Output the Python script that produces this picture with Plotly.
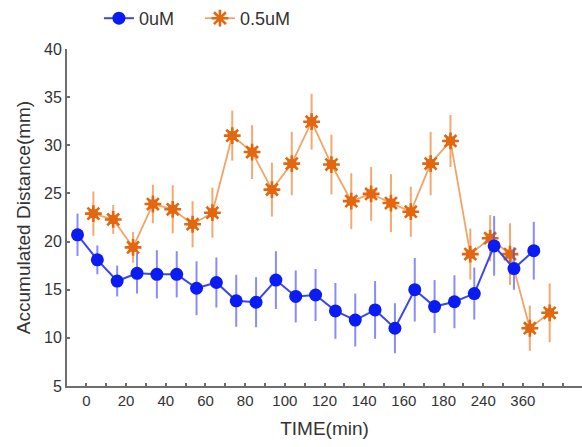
import plotly.graph_objects as go

# Sampling slots (one per time point) and their axis labels
slots = list(range(24))
tick_labels = ["0", "20", "40", "60", "80", "100", "120", "140", "160", "180", "240", "360"]

# Mean accumulated distance (mm) and error per time point
ctrl_mean = [20.7, 18.1, 15.9, 16.7, 16.6, 16.6, 15.15, 15.75, 13.85, 13.7, 16.0, 14.3,
             14.45, 12.8, 11.85, 12.9, 11.0, 15.0, 13.25, 13.75, 14.6, 19.55, 17.2, 19.05]
ctrl_err = [2.2, 1.5, 1.6, 2.1, 2.5, 2.4, 2.8, 2.6, 2.7, 2.6, 3.0, 2.7,
            2.7, 2.9, 2.75, 3.0, 2.6, 3.3, 2.75, 2.75, 2.7, 3.1, 2.2, 3.0]

dose_mean = [22.9, 22.3, 19.4, 23.9, 23.35, 21.8, 23.0, 31.0, 29.3, 25.4, 28.1, 32.45,
             28.0, 24.2, 24.95, 24.0, 23.1, 28.1, 30.45, 18.7, 20.35, 18.7, 11.0, 12.6]
dose_err = [2.3, 1.5, 1.6, 2.0, 2.5, 2.4, 2.6, 2.6, 2.8, 2.8, 3.3, 2.9,
            3.1, 2.9, 2.8, 3.0, 2.6, 3.3, 2.7, 2.65, 2.4, 3.2, 2.35, 3.05]

# Small horizontal dodge so the two groups do not overlap
ctrl_x = [s - 0.45 for s in slots]
dose_x = [s + 0.35 for s in slots]

BLUE = "#0b1cf2"
BLUE_LINE = "#3b45f0"
BLUE_ERR = "rgba(70,80,245,0.65)"
ORANGE = "#e2670e"
ORANGE_LINE = "#f2a467"
ORANGE_ERR = "rgba(238,140,70,0.75)"

fig = go.Figure()

fig.add_trace(go.Scatter(
    x=dose_x, y=dose_mean, name="0.5uM", mode="lines+markers",
    line=dict(color=ORANGE_LINE, width=1.8),
    marker=dict(symbol="asterisk-open", size=14, color=ORANGE,
                line=dict(color=ORANGE, width=2.6)),
    error_y=dict(type="data", array=dose_err, visible=True,
                 color=ORANGE_ERR, thickness=2, width=0),
))
fig.add_trace(go.Scatter(
    x=dose_x, y=dose_mean, mode="markers", showlegend=False, hoverinfo="skip",
    marker=dict(symbol="square", size=9, color=ORANGE, line=dict(width=0)),
))
fig.add_trace(go.Scatter(
    x=ctrl_x, y=ctrl_mean, name="0uM", mode="lines+markers",
    line=dict(color=BLUE_LINE, width=2),
    marker=dict(symbol="circle", size=13, color=BLUE, line=dict(width=0)),
    error_y=dict(type="data", array=ctrl_err, visible=True,
                 color=BLUE_ERR, thickness=2, width=0),
))

tickvals = list(range(25))
ticktext = [tick_labels[v // 2] if v % 2 == 0 and v // 2 < len(tick_labels) else "" for v in tickvals]

axis_color = "#6e6e6e"
font_family = "Liberation Sans, Arial, sans-serif"

fig.update_layout(
    width=582, height=447,
    margin=dict(l=67, r=0, t=49, b=61),
    paper_bgcolor="white", plot_bgcolor="white",
    font=dict(family=font_family, color="#333333"),
    showlegend=True,
    legend=dict(orientation="h", x=0.062, y=1.036, xanchor="left", yanchor="bottom",
                traceorder="reversed", font=dict(size=18, color="#333333"),
                itemwidth=30, entrywidth=56, entrywidthmode="pixels",
                bgcolor="rgba(0,0,0,0)"),
    xaxis=dict(
        range=[-0.98, 24.98], tickmode="array", tickvals=tickvals, ticktext=ticktext,
        ticks="inside", ticklen=3, tickwidth=1.5, tickcolor=axis_color,
        showline=True, linecolor=axis_color, linewidth=1.8, showgrid=False, zeroline=False,
        tickfont=dict(size=15, color="#333333"),
        title=dict(text="TIME(min)", font=dict(size=19, color="#333333"), standoff=14),
    ),
    yaxis=dict(
        range=[5, 40], tickmode="linear", tick0=5, dtick=5,
        ticks="inside", ticklen=3, tickwidth=1.5, tickcolor=axis_color,
        showline=True, linecolor=axis_color, linewidth=1.8, showgrid=False, zeroline=False,
        tickfont=dict(size=16, color="#333333"),
        title=dict(text="Accumulated Distance(mm)", font=dict(size=19, color="#333333"), standoff=8),
    ),
)

fig.write_html("out.html")
